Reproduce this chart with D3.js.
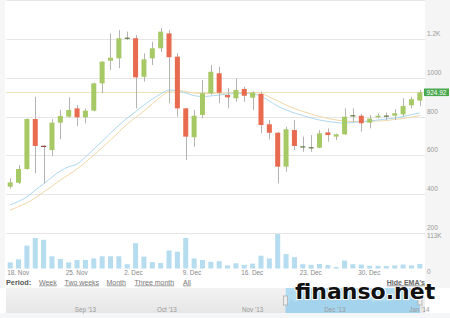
<!DOCTYPE html>
<html>
<head>
<meta charset="utf-8">
<script src="https://cdnjs.cloudflare.com/ajax/libs/d3/7.8.5/d3.min.js"></script>
<style>
  body { margin: 0; background: #fff; }
  svg text { font-family: "Liberation Sans", Arial, sans-serif; }
</style>
</head>
<body>
<div id="chart"></div>
<script>
// daily candles, 18 Nov 2013 - 6 Jan 2014
var days = [
  "2013-11-18","2013-11-19","2013-11-20","2013-11-21","2013-11-22","2013-11-23","2013-11-24",
  "2013-11-25","2013-11-26","2013-11-27","2013-11-28","2013-11-29","2013-11-30","2013-12-01",
  "2013-12-02","2013-12-03","2013-12-04","2013-12-05","2013-12-06","2013-12-07","2013-12-08",
  "2013-12-09","2013-12-10","2013-12-11","2013-12-12","2013-12-13","2013-12-14","2013-12-15",
  "2013-12-16","2013-12-17","2013-12-18","2013-12-19","2013-12-20","2013-12-21","2013-12-22",
  "2013-12-23","2013-12-24","2013-12-25","2013-12-26","2013-12-27","2013-12-28","2013-12-29",
  "2013-12-30","2013-12-31","2014-01-01","2014-01-02","2014-01-03","2014-01-04","2014-01-05",
  "2014-01-06"
];

var open  = [438,458,529,787,648,627,768,799,842,796,830,971,1088,1100,1203,1204,1005,1100,1152,1229,1109,842,693,808,920,1023,911,894,942,897,916,760,716,541,730,641,637,639,718,696,708,802,804,768,796,801,804,811,858,882];
var high  = [481,550,790,902,650,786,834,899,859,842,975,1086,1229,1246,1238,1221,1126,1186,1257,1246,1126,845,834,988,1066,1057,946,997,954,930,928,782,720,747,782,696,704,730,739,712,842,842,813,808,815,820,837,894,902,937];
var low   = [429,452,525,507,455,596,682,795,751,765,826,920,1040,1049,1195,842,980,1066,1134,868,799,575,644,791,912,868,842,876,876,834,713,682,455,515,627,618,618,636,670,679,705,773,722,739,790,782,782,799,842,854];
var close = [460,529,787,648,644,768,803,834,796,830,971,1083,1103,1204,1205,1002,1095,1152,1238,1106,842,696,804,920,1031,923,899,937,907,923,756,716,541,734,648,645,640,713,704,708,799,805,765,789,804,803,817,854,889,924.92];
var volume = [20000,30000,75000,100000,94000,40000,31000,20000,28000,28000,33000,40000,40000,40000,14000,83000,39000,21000,18000,59000,55000,100000,33000,28000,22000,24000,10000,17000,12000,16000,42000,33000,113000,47000,37000,14000,12000,15000,11000,5000,26000,14000,13000,9000,9000,8000,10000,13000,10000,15000];

// the two EMA lines
var emaFast = [343,362,385,420,452,487,519,540,555,590,632,672,715,755,792,825,859,890,916,937,932,921,908,903,906,911,916,919,919,916,906,880,854,834,818,805,792,782,774,769,766,769,774,777,782,787,792,800,810,818];
var emaSlow = [317,335,354,380,410,440,472,500,529,563,601,640,679,720,761,795,828,865,901,929,934,929,921,919,919,920,921,924,924,924,919,901,880,859,841,826,813,800,790,782,777,774,774,774,777,779,785,790,797,805];

var priceTicks = [200,400,600,800,1000,1200,1400];
var volTicks = [0,113000];
var dayTicks = ["2013-11-18","2013-11-25","2013-12-02","2013-12-09","2013-12-16","2013-12-23","2013-12-30"];
var navTicks = ["2013-09-01","2013-10-01","2013-11-01","2013-12-01","2014-01-01"];
var periods = ["Week","Two weeks","Month","Three month","All"];

(function() {
  var w = 450,
      h = 318;

  var svg = d3.select("#chart")
    .append("svg")
    .attr("width", w)
    .attr("height", h)

  var parse = d3.timeParse("%Y-%m-%d")

  var x = d3.scaleBand()
    .domain(days)
    .range([6, 424])
    .paddingInner(0.4)
    .paddingOuter(0.2)
  var cx = function(d) { return x(d) + x.bandwidth() / 2 }

  var y = d3.scaleLinear().domain([200, 1400]).range([232.75, 0.25])
  var yVol = d3.scaleLinear().domain([0, 113000]).range([268.5, 234])

  // light side strips
  svg.append("rect").attr("x", 425).attr("y", 0).attr("width", 25).attr("height", 288).attr("fill", "#f5f5f5")
  svg.append("rect").attr("x", 0).attr("y", 0).attr("width", 5).attr("height", 288).attr("fill", "#f6f6f6")

  // grid
  svg.selectAll(".grid")
    .data(priceTicks)
    .enter().append("line")
    .attr("class", "grid")
    .attr("x1", 6).attr("x2", 425)
    .attr("y1", function(d) { return Math.round(y(d)) + 0.5 })
    .attr("y2", function(d) { return Math.round(y(d)) + 0.5 })
    .attr("stroke", "#e6e6e6")

  // last price line
  var last = close[close.length - 1]
  svg.append("line")
    .attr("x1", 6).attr("x2", 425)
    .attr("y1", Math.round(y(last)) + 0.5).attr("y2", Math.round(y(last)) + 0.5)
    .attr("stroke", "#e8e5bd")

  // volume
  svg.selectAll(".vol")
    .data(days)
    .enter().append("rect")
    .attr("class", "vol")
    .attr("x", function(d) { return x(d) })
    .attr("width", x.bandwidth())
    .attr("y", function(d, i) { return yVol(volume[i]) })
    .attr("height", function(d, i) { return yVol(0) - yVol(volume[i]) })
    .attr("fill", "#b5dcef")

  // EMAs
  var line = d3.line()
    .x(function(d, i) { return cx(days[i]) })
    .y(function(d) { return y(d) })
    .curve(d3.curveMonotoneX)

  svg.append("path").datum(emaSlow).attr("d", line)
    .attr("fill", "none").attr("stroke", "#f0d7a6").attr("stroke-width", 1)
  svg.append("path").datum(emaFast).attr("d", line)
    .attr("fill", "none").attr("stroke", "#acd8ef").attr("stroke-width", 1)

  // candles
  var candles = svg.selectAll(".candle")
    .data(days)
    .enter().append("g")
    .attr("class", "candle")

  candles.append("line")
    .attr("x1", function(d) { return Math.round(cx(d)) + 0.5 })
    .attr("x2", function(d) { return Math.round(cx(d)) + 0.5 })
    .attr("y1", function(d, i) { return y(high[i]) })
    .attr("y2", function(d, i) { return y(low[i]) })
    .attr("stroke", "#b3b3b3")

  candles.append("rect")
    .attr("x", function(d) { return x(d) })
    .attr("width", x.bandwidth())
    .attr("y", function(d, i) {
      var top = y(Math.max(open[i], close[i])), bot = y(Math.min(open[i], close[i]))
      return bot - top < 1.5 ? (top + bot) / 2 - 0.6 : top
    })
    .attr("height", function(d, i) {
      var hh = Math.abs(y(open[i]) - y(close[i]))
      return hh < 1.5 ? 1.2 : hh
    })
    .attr("fill", function(d, i) {
      var col = close[i] >= open[i] ? "#a7c965" : "#e86b50"
      var hh = Math.abs(y(open[i]) - y(close[i]))
      return hh < 1.5 ? d3.color(col).darker(1.6) : col
    })

  // price axis labels
  var fmt = function(d) { return d >= 1200 ? d / 1000 + "K" : d }
  svg.selectAll(".ylab")
    .data(priceTicks.filter(function(d) { return d < 1400 }))
    .enter().append("text")
    .attr("class", "ylab")
    .attr("x", 427)
    .attr("y", function(d) { return y(d) - 3 })
    .attr("font-size", 6.5)
    .attr("fill", "#999")
    .text(fmt)

  svg.selectAll(".vlab")
    .data(volTicks)
    .enter().append("text")
    .attr("class", "vlab")
    .attr("x", 427)
    .attr("y", function(d) { return d ? yVol(d) + 3.5 : yVol(d) + 5 })
    .attr("font-size", 6.5)
    .attr("fill", "#999")
    .text(function(d) { return d ? d / 1000 + "K" : "0" })

  // last price tag
  svg.append("rect")
    .attr("x", 424).attr("y", y(last) - 3.8)
    .attr("width", 25).attr("height", 7.6)
    .attr("fill", "#4aa84f")
  svg.append("text")
    .attr("x", 436.5).attr("y", y(last) + 2.3)
    .attr("text-anchor", "middle")
    .attr("font-size", 6.5)
    .attr("fill", "#fff")
    .text(last.toFixed(2))

  // x axis labels
  var dfmt = d3.timeFormat("%-d. %b")
  svg.selectAll(".xlab")
    .data(dayTicks)
    .enter().append("text")
    .attr("class", "xlab")
    .attr("x", function(d) { return cx(d) - 3 })
    .attr("y", 275)
    .attr("font-size", 6.4)
    .attr("fill", "#888")
    .text(function(d) { return dfmt(parse(d)) })

  // period selector
  svg.append("text")
    .attr("x", 6).attr("y", 284.5)
    .attr("font-size", 7.3).attr("font-weight", "bold")
    .attr("fill", "#555")
    .text("Period:")

  var px = [39, 64.5, 106.5, 134.5, 183]
  svg.selectAll(".period")
    .data(periods)
    .enter().append("text")
    .attr("class", "period")
    .attr("x", function(d, i) { return px[i] })
    .attr("y", 284.5)
    .attr("font-size", 7)
    .attr("fill", "#777")
    .attr("text-decoration", "underline")
    .text(function(d) { return d })

  // navigator
  var grad = svg.append("defs").append("linearGradient")
    .attr("id", "navbg").attr("x1", 0).attr("x2", 0).attr("y1", 0).attr("y2", 1)
  grad.append("stop").attr("offset", "0%").attr("stop-color", "#f3f3f3")
  grad.append("stop").attr("offset", "100%").attr("stop-color", "#e6e6e6")

  svg.append("rect").attr("x", 6).attr("y", 288).attr("width", 419).attr("height", 25)
    .attr("fill", "url(#navbg)")
  svg.append("rect").attr("x", 0).attr("y", 313).attr("width", 450).attr("height", 5)
    .attr("fill", "#f4f6f8")

  var nx = d3.scaleTime()
    .domain([parse("2013-08-08"), parse("2014-01-06")])
    .range([6, 420])
  var ny = d3.scaleLinear().domain([0, 1400]).range([313, 288])

  var sx0 = nx(parse(days[0])), sx1 = nx(parse(days[days.length - 1]))
  svg.append("rect").attr("x", sx0).attr("y", 288).attr("width", sx1 - sx0).attr("height", 25)
    .attr("fill", "#b3dcf1")

  var area = d3.area()
    .x(function(d, i) { return nx(parse(days[i])) })
    .y0(313)
    .y1(function(d) { return ny(d) })
  svg.append("path").datum(close).attr("d", area).attr("fill", "#a4d4ed")

  svg.selectAll(".handle")
    .data([sx0, sx1])
    .enter().append("rect")
    .attr("class", "handle")
    .attr("x", function(d) { return d - 2 })
    .attr("y", 296).attr("width", 4).attr("height", 9)
    .attr("fill", "#eee").attr("stroke", "#999").attr("stroke-width", 0.6)

  var mfmt = d3.timeFormat("%b '%y")
  svg.selectAll(".nlab")
    .data(navTicks)
    .enter().append("text")
    .attr("class", "nlab")
    .attr("x", function(d) { return nx(parse(d)) + 3 })
    .attr("y", 311.5)
    .attr("font-size", 6.3)
    .attr("fill", "#999")
    .text(function(d) { return mfmt(parse(d)) })

  // watermark
  svg.append("text")
    .attr("x", 295).attr("y", 298.5)
    .style("font-family", "'DejaVu Sans', Verdana, sans-serif")
    .attr("font-size", 22).attr("font-weight", "bold")
    .attr("fill", "#111")
    .attr("stroke", "#fff").attr("stroke-width", 2)
    .attr("paint-order", "stroke")
    .text("finanso.net")

  // drawn above the watermark, as in the original
  svg.append("text")
    .attr("x", 425).attr("y", 284.5)
    .attr("text-anchor", "end")
    .attr("font-size", 7).attr("font-weight", "bold")
    .attr("fill", "#666")
    .attr("text-decoration", "underline")
    .text("Hide EMA's")
})();
</script>
</body>
</html>
